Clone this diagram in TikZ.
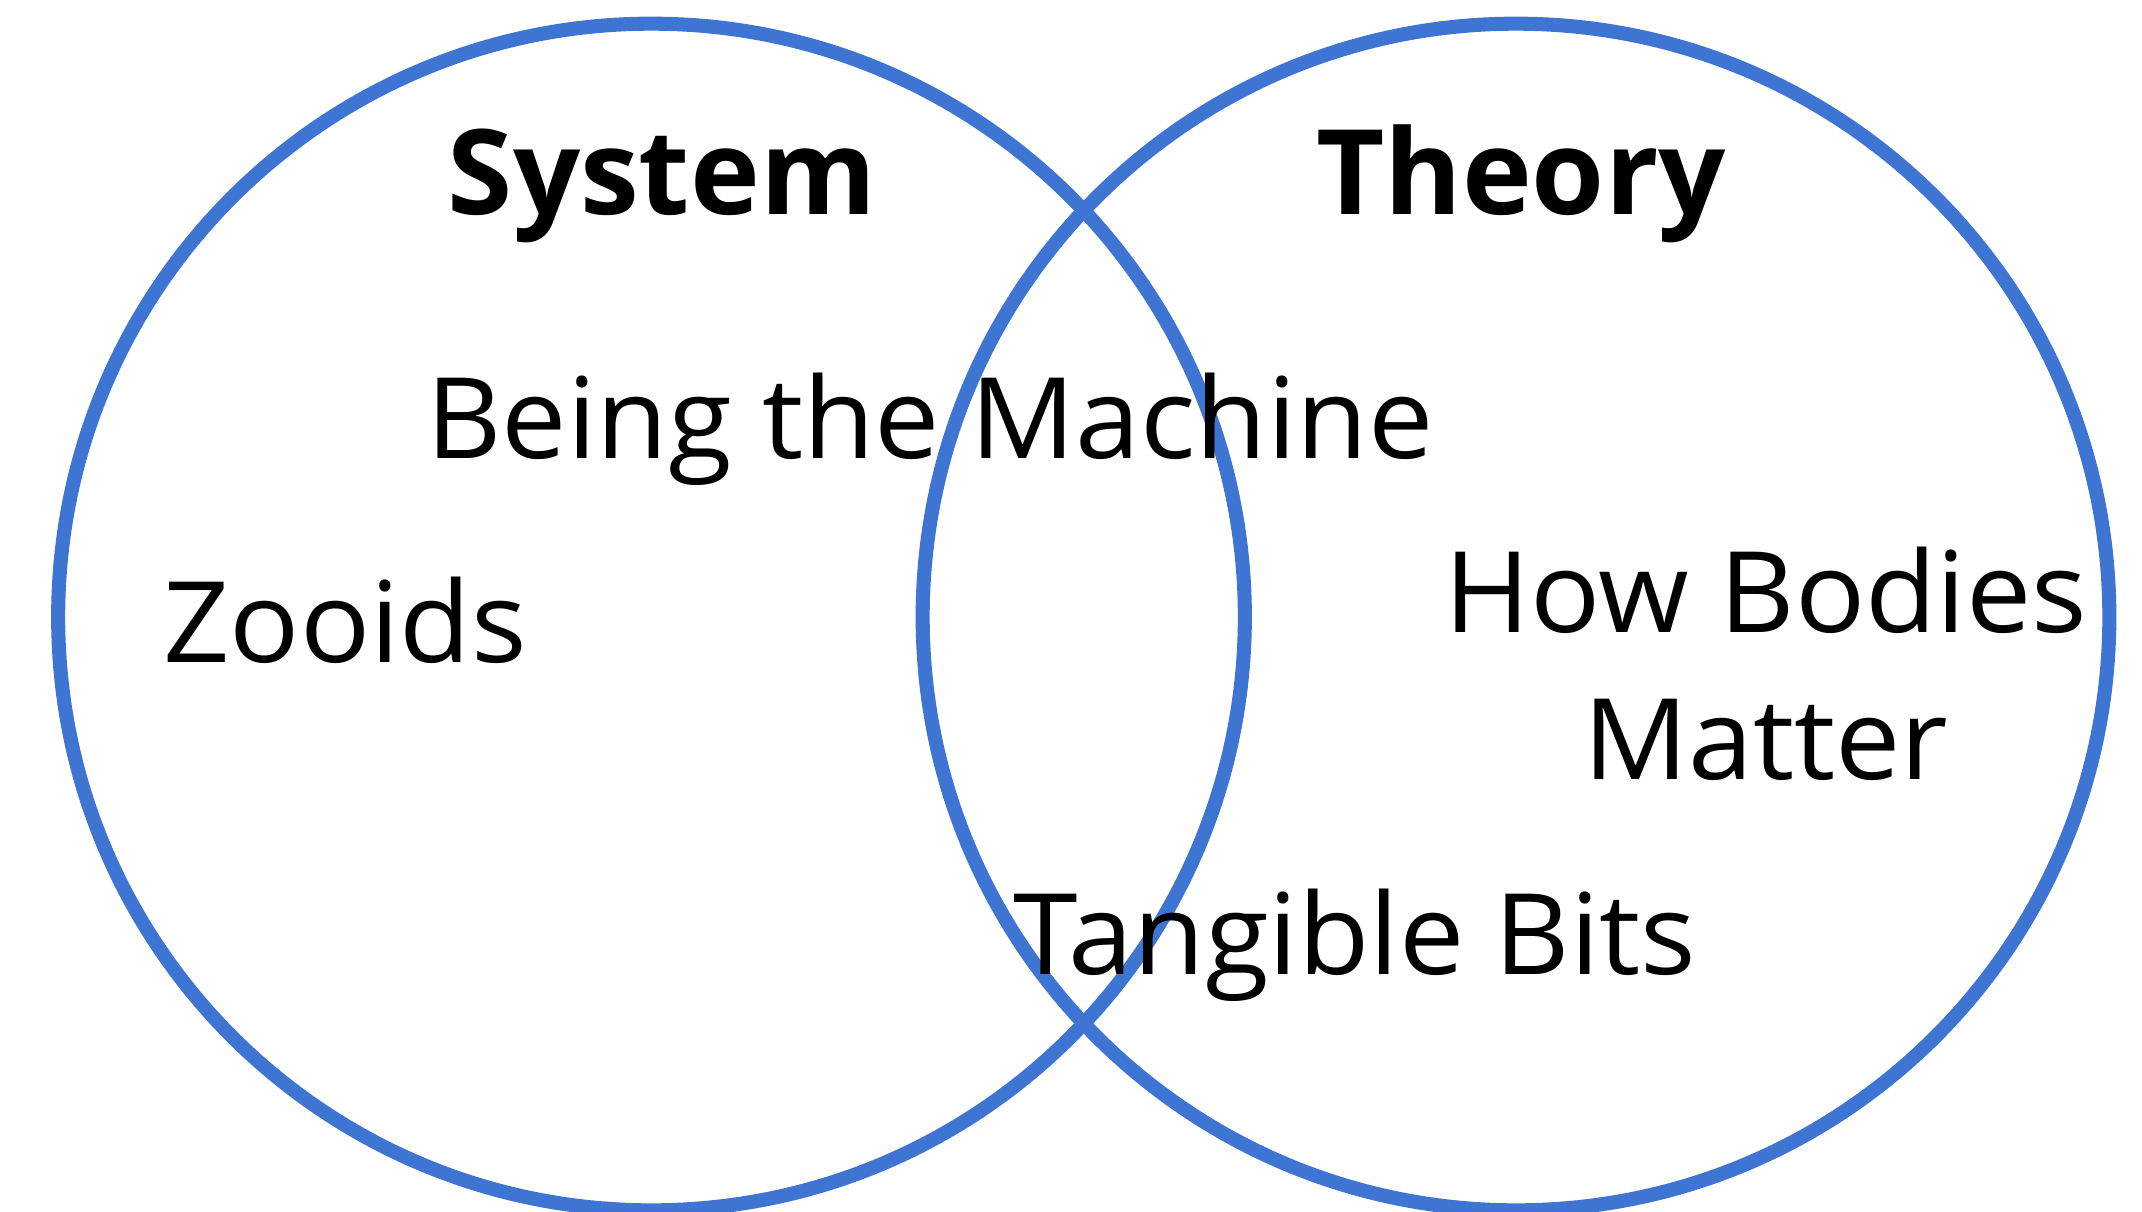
\documentclass[tikz,border=0pt]{standalone}
\usepackage{fontspec}
\setmainfont{Open Sans}
\newfontfamily\lblfont[FakeStretch=1.035]{Open Sans}
\definecolor{vennblue}{RGB}{62,117,210}
\tikzset{
  setcircle/.style={draw=vennblue, line width=4pt},
  lbl/.style={anchor=base, inner sep=0pt, font=\lblfont\fontsize{32}{38}\selectfont},
  ttl/.style={anchor=base, inner sep=0pt, font=\fontsize{33.6}{40}\selectfont\bfseries},
}
\begin{document}
\begin{tikzpicture}[x=0.01cm, y=-0.01cm]
  \useasboundingbox (0,0) rectangle (2142,1211);
  \clip (0,0) rectangle (2142,1211);
  \draw[setcircle] (651.5,617) circle[radius=5.93cm];
  \draw[setcircle] (1516,617) circle[radius=5.93cm];
  \node[ttl] (system) at (662,214) {System};
  \node[ttl] (theory) at (1521,214) {Theory};
  \node[lbl] (machine) at (930,458) {Being the Machine};
  \node[lbl] (zooids) at (345,662) {Zooids};
  \node[lbl] (howbodies) at (1766,632) {How Bodies};
  \node[lbl] (matter) at (1766,779) {Matter};
  \node[lbl] (tangible) at (1355,974) {Tangible Bits};
\end{tikzpicture}
\end{document}
